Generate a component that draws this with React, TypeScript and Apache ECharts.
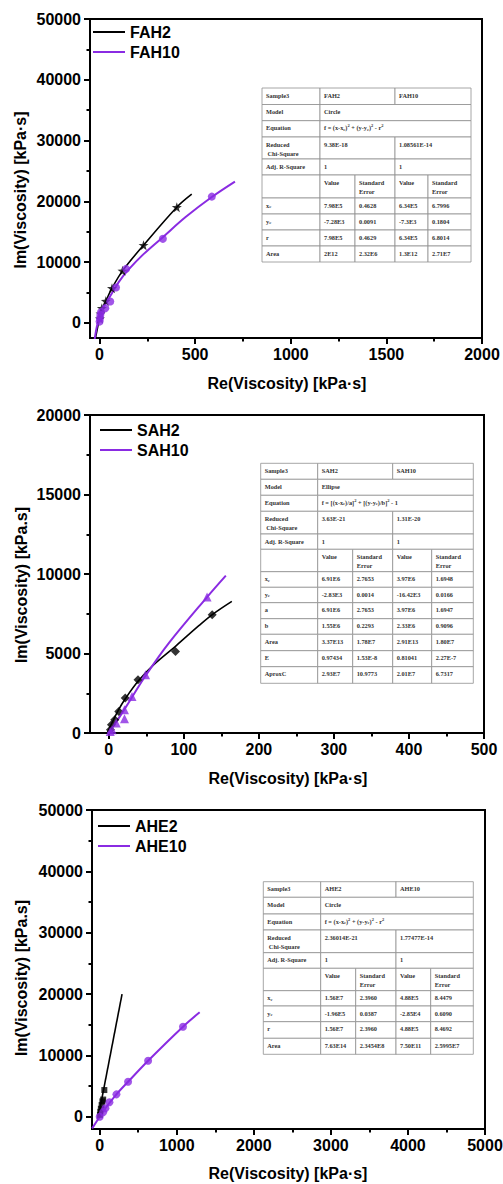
import React, { useEffect, useRef } from "react";
import * as echarts from "echarts";

// ---------------- DATA ----------------
// Panel 1 : FAH (circle fit)
const fah2Points = [[2, 700], [5, 1500], [12, 2400], [33, 3570], [65, 5700], [120, 8550], [230, 12780], [404, 19030]];
const fah2Fit = [[-22, -2600], [-8, -400], [5, 1500], [33, 3570], [65, 5700], [120, 8550], [230, 12780], [404, 19030], [482, 21170]];
const fah10Points = [[0, 200], [2, 700], [4, 1300], [8, 1800], [30, 2400], [56, 3500], [86, 5800], [139, 8880], [331, 13820], [587, 20770]];
const fah10Fit = [[-26, -2800], [-14, -600], [0, 900], [21, 2600], [56, 4400], [100, 6700], [150, 8700], [230, 11300], [331, 14100], [450, 17400], [587, 20700], [708, 23240]];

// Panel 2 : SAH (ellipse fit)
const sah2Points = [[2.2, 210], [3.6, 520], [8, 840], [13.3, 1360], [22, 2200], [39, 3350], [88.9, 5130], [137.8, 7440]];
const sah2Fit = [[-2, 0], [4, 600], [13, 1450], [22, 2150], [39, 3250], [60, 4300], [90, 5500], [120, 6750], [138, 7450], [164, 8280]];
const sah10Points = [[2, 100], [4.4, 210], [10, 630], [21, 900], [21, 1470], [31, 2300], [49, 3670], [131, 8550]];
const sah10Fit = [[-1, 0], [10, 700], [21, 1500], [31, 2250], [49, 3600], [80, 5650], [131, 8550], [156, 9900]];

// Panel 3 : AHE (circle fit)
const ahe2Points = [[3, 300], [8, 800], [15, 1300], [25, 1900], [35, 2500], [45, 2800], [60, 4350]];
const ahe2Fit = [[-25, -500], [290, 20000]];
const ahe10Points = [[0, 0], [44, 720], [74, 1370], [126, 2350], [217, 3650], [368, 5710], [628, 9130], [1081, 14680]];
const ahe10Fit = [[-98, -1900], [0, 0], [74, 1400], [217, 3650], [368, 5700], [628, 9130], [1081, 14680], [1297, 17020]];

// Axis domains and tick labels
const xRange1 = [-50, 2000];
const yRange1 = [-2500, 50000];
const xTicks1 = [0, 500, 1000, 1500, 2000];
const xMinor1 = [250, 750, 1250, 1750];
const yTicks1 = [0, 10000, 20000, 30000, 40000, 50000];
const yMinor1 = [5000, 15000, 25000, 35000, 45000];

const xRange2 = [-25, 500];
const yRange2 = [0, 20000];
const xTicks2 = [0, 100, 200, 300, 400, 500];
const xMinor2 = [50, 150, 250, 350, 450];
const yTicks2 = [0, 5000, 10000, 15000, 20000];
const yMinor2 = [2500, 7500, 12500, 17500];

const xRange3 = [-100, 5000];
const yRange3 = [-2000, 50000];
const xTicks3 = [0, 1000, 2000, 3000, 4000, 5000];
const xMinor3 = [500, 1500, 2500, 3500, 4500];
const yTicks3 = [0, 10000, 20000, 30000, 40000, 50000];
const yMinor3 = [5000, 15000, 25000, 35000, 45000];

// Texts
const xTitle1 = "Re(Viscosity) [kPa·s]";
const yTitle1 = "Im(Viscosity) [kPa·s]";
const xTitle2 = "Re(Viscosity) [kPa·s]";
const yTitle2 = "Im(Viscosity) [kPa.s]";
const xTitle3 = "Re(Viscosity) [kPa·s]";
const yTitle3 = "Im(Viscosity) [kPa.s]";

const eqCircle = "f = (x-x{sub|c}){sup|2} + (y-y{sub|c}){sup|2} - r{sup|2}";
const eqEllipse = "f = [(x-x{sub|c})/a]{sup|2} + [(y-y{sub|c})/b]{sup|2} - 1";

// Table contents: [text, colSpan]
const tableFAH: [string, number][][] = [
  [["Sample3", 1], ["FAH2", 2], ["FAH10", 2]],
  [["Model", 1], ["Circle", 4]],
  [["Equation", 1], [eqCircle, 4]],
  [["Reduced\n Chi-Square", 1], ["9.38E-18", 2], ["1.08561E-14", 2]],
  [["Adj. R-Square", 1], ["1", 2], ["1", 2]],
  [["", 1], ["Value", 1], ["Standard\nError", 1], ["Value", 1], ["Standard\nError", 1]],
  [["x{sub|c}", 1], ["7.98E5", 1], ["0.4628", 1], ["6.34E5", 1], ["6.7996", 1]],
  [["y{sub|c}", 1], ["-7.28E3", 1], ["0.0091", 1], ["-7.3E3", 1], ["0.1804", 1]],
  [["r", 1], ["7.98E5", 1], ["0.4629", 1], ["6.34E5", 1], ["6.8014", 1]],
  [["Area", 1], ["2E12", 1], ["2.32E6", 1], ["1.3E12", 1], ["2.71E7", 1]],
];

const tableSAH: [string, number][][] = [
  [["Sample3", 1], ["SAH2", 2], ["SAH10", 2]],
  [["Model", 1], ["Ellipse", 4]],
  [["Equation", 1], [eqEllipse, 4]],
  [["Reduced\n Chi-Square", 1], ["3.63E-21", 2], ["1.31E-20", 2]],
  [["Adj. R-Square", 1], ["1", 2], ["1", 2]],
  [["", 1], ["Value", 1], ["Standard\nError", 1], ["Value", 1], ["Standard\nError", 1]],
  [["x{sub|c}", 1], ["6.91E6", 1], ["2.7653", 1], ["3.97E6", 1], ["1.6948", 1]],
  [["y{sub|c}", 1], ["-2.83E3", 1], ["0.0014", 1], ["-16.42E3", 1], ["0.0166", 1]],
  [["a", 1], ["6.91E6", 1], ["2.7653", 1], ["3.97E6", 1], ["1.6947", 1]],
  [["b", 1], ["1.55E6", 1], ["0.2293", 1], ["2.33E6", 1], ["0.9096", 1]],
  [["Area", 1], ["3.37E13", 1], ["1.78E7", 1], ["2.91E13", 1], ["1.80E7", 1]],
  [["E", 1], ["0.97434", 1], ["1.53E-8", 1], ["0.81041", 1], ["2.27E-7", 1]],
  [["AproxC", 1], ["2.93E7", 1], ["10.9773", 1], ["2.01E7", 1], ["6.7317", 1]],
];

const tableAHE: [string, number][][] = [
  [["Sample3", 1], ["AHE2", 2], ["AHE10", 2]],
  [["Model", 1], ["Circle", 4]],
  [["Equation", 1], [eqCircle, 4]],
  [["Reduced\n Chi-Square", 1], ["2.36014E-21", 2], ["1.77477E-14", 2]],
  [["Adj. R-Square", 1], ["1", 2], ["1", 2]],
  [["", 1], ["Value", 1], ["Standard\nError", 1], ["Value", 1], ["Standard\nError", 1]],
  [["x{sub|c}", 1], ["1.56E7", 1], ["2.3960", 1], ["4.88E5", 1], ["8.4479", 1]],
  [["y{sub|c}", 1], ["-1.96E5", 1], ["0.0387", 1], ["-2.85E4", 1], ["0.6090", 1]],
  [["r", 1], ["1.56E7", 1], ["2.3960", 1], ["4.88E5", 1], ["8.4692", 1]],
  [["Area", 1], ["7.63E14", 1], ["2.3454E8", 1], ["7.50E11", 1], ["2.5995E7", 1]],
];

// ---------------- LAYOUT / STYLE ----------------
const W = 503;
const H = 1184;
const SANS = "'Liberation Sans', Arial, sans-serif";
const SERIF = "'Liberation Serif', 'Times New Roman', serif";
const PURPLE = "#8a2be2";
const BLACK = "#000000";
const STAR = "path://M0,-10L2.35,-3.24L9.51,-3.09L3.8,1.24L5.88,8.09L0,4L-5.88,8.09L-3.8,1.24L-9.51,-3.09L-2.35,-3.24Z";

const panels = [
  {
    grid: { left: 90, top: 19, width: 392, height: 319 },
    xRange: xRange1, yRange: yRange1, xTicks: xTicks1, xMinor: xMinor1, yTicks: yTicks1, yMinor: yMinor1,
    xTitle: xTitle1, yTitle: yTitle1, xTitlePos: [287, 383], yTitlePos: [20, 190],
    legend: { left: 93, top: 24 },
    series: [
      { name: "FAH2", fit: fah2Fit, pts: fah2Points, color: BLACK, symbol: STAR, size: 10, width: 1.6 },
      { name: "FAH10", fit: fah10Fit, pts: fah10Points, color: PURPLE, symbol: "circle", size: 8, width: 2 },
    ],
    table: tableFAH,
    cols: [262, 320, 355, 395, 428, 471],
    rows: [88, 104.5, 120.7, 137, 159, 175, 198, 214, 230, 246, 262],
  },
  {
    grid: { left: 90, top: 415, width: 394, height: 318 },
    xRange: xRange2, yRange: yRange2, xTicks: xTicks2, xMinor: xMinor2, yTicks: yTicks2, yMinor: yMinor2,
    xTitle: xTitle2, yTitle: yTitle2, xTitlePos: [288, 778], yTitlePos: [21.5, 585],
    legend: { left: 100, top: 422 },
    series: [
      { name: "SAH2", fit: sah2Fit, pts: sah2Points, color: BLACK, symbol: "diamond", size: 9, width: 1.6 },
      { name: "SAH10", fit: sah10Fit, pts: sah10Points, color: PURPLE, symbol: "triangle", size: 9, width: 2 },
    ],
    table: tableSAH,
    cols: [260.7, 317.7, 352.7, 392.7, 431.7, 473.3],
    rows: [463.3, 479.3, 495.3, 511.3, 534, 549.3, 571.7, 587.3, 602.7, 618.7, 634.3, 650.7, 666.7, 683.3],
  },
  {
    grid: { left: 92, top: 810, width: 393, height: 319 },
    xRange: xRange3, yRange: yRange3, xTicks: xTicks3, xMinor: xMinor3, yTicks: yTicks3, yMinor: yMinor3,
    xTitle: xTitle3, yTitle: yTitle3, xTitlePos: [288, 1173], yTitlePos: [21, 978],
    legend: { left: 98, top: 818 },
    series: [
      { name: "AHE2", fit: ahe2Fit, pts: ahe2Points, color: BLACK, symbol: "rect", size: 6, width: 1.6 },
      { name: "AHE10", fit: ahe10Fit, pts: ahe10Points, color: PURPLE, symbol: "circle", size: 8, width: 2 },
    ],
    table: tableAHE,
    cols: [263.3, 320.7, 355.7, 396, 430.7, 473.3],
    rows: [881.7, 897.3, 914, 930, 952.7, 968.3, 990.7, 1006, 1021.7, 1038.3, 1054.3],
  },
];

const tickLabelStyle = { fontFamily: SANS, fontWeight: "bold" as const, fontSize: 16, color: BLACK };

function axisPair(dim: "x" | "y", gridIndex: number, range: number[], major: number[], minor: number[]) {
  const position = dim === "x" ? "bottom" : "left";
  const base = {
    type: "value",
    gridIndex,
    min: range[0],
    max: range[1],
    position,
    splitLine: { show: false },
    splitArea: { show: false },
  };
  return [
    {
      ...base,
      axisLine: { show: true, onZero: false, lineStyle: { color: BLACK, width: 2 } },
      axisTick: { show: true, inside: false, length: 6, customValues: major, lineStyle: { color: BLACK, width: 2 } },
      axisLabel: {
        show: true,
        customValues: major,
        margin: dim === "x" ? 8 : 9,
        formatter: (v: number) => String(v),
        ...tickLabelStyle,
      },
    },
    {
      ...base,
      axisLine: { show: false, onZero: false },
      axisTick: { show: true, inside: false, length: 3.5, customValues: minor, lineStyle: { color: BLACK, width: 2 } },
      axisLabel: { show: false },
    },
  ];
}

const richSubSup = {
  sub: { fontFamily: SERIF, fontWeight: "bold", fontSize: 4.5, fill: "#333", padding: [3, 0, 0, 0] },
  sup: { fontFamily: SERIF, fontWeight: "bold", fontSize: 4.5, fill: "#333", padding: [0, 0, 4, 0] },
};

function buildTable(table: [string, number][][], cols: number[], rows: number[]) {
  const els: any[] = [];
  const texts: any[] = [];
  table.forEach((row, r) => {
    let c = 0;
    row.forEach(([text, span]) => {
      const x0 = cols[c];
      const x1 = cols[c + span];
      const y0 = rows[r];
      const y1 = rows[r + 1];
      els.push({
        type: "rect",
        shape: { x: x0, y: y0, width: x1 - x0, height: y1 - y0 },
        style: { fill: "#ffffff", stroke: "#8f8f8f", lineWidth: 0.8 },
        z: 10,
      });
      if (text) {
        texts.push({
          type: "text",
          x: x0 + 4,
          y: y0 + 2.6,
          z: 11,
          style: {
            text,
            fontFamily: SERIF,
            fontWeight: "bold",
            fontSize: 6.3,
            lineHeight: 9,
            fill: "#333333",
            align: "left",
            verticalAlign: "top",
            rich: richSubSup,
          },
        });
      }
      c += span;
    });
  });
  return [...els, ...texts];
}

function buildOption() {
  const grid: any[] = [];
  const xAxis: any[] = [];
  const yAxis: any[] = [];
  const series: any[] = [];
  const legend: any[] = [];
  const graphic: any[] = [];

  panels.forEach((p, g) => {
    grid.push({
      ...p.grid,
      show: true,
      borderColor: BLACK,
      borderWidth: 2,
      backgroundColor: "transparent",
      containLabel: false,
      outerBoundsMode: "none",
    });
    xAxis.push(...axisPair("x", g, p.xRange, p.xTicks, p.xMinor));
    yAxis.push(...axisPair("y", g, p.yRange, p.yTicks, p.yMinor));
    p.series.forEach((s) => {
      series.push({
        type: "line",
        name: s.name,
        data: s.fit,
        xAxisIndex: 2 * g,
        yAxisIndex: 2 * g,
        symbol: "none",
        showSymbol: false,
        smooth: 0.35,
        clip: true,
        lineStyle: { color: s.color, width: s.width },
        itemStyle: { color: s.color },
        z: 2,
      });
      series.push({
        type: "scatter",
        name: s.name + " data",
        data: s.pts,
        xAxisIndex: 2 * g,
        yAxisIndex: 2 * g,
        symbol: s.symbol,
        symbolSize: s.size,
        itemStyle: { color: s.color },
        clip: true,
        z: 3,
      });
    });
    legend.push({
      show: true,
      left: p.legend.left,
      top: p.legend.top,
      orient: "vertical",
      padding: 0,
      icon: "rect",
      itemWidth: 32,
      itemHeight: 2,
      itemGap: 4,
      selectedMode: false,
      data: p.series.map((s) => ({ name: s.name, icon: "rect", itemStyle: { color: s.color } })),
      textStyle: { fontFamily: SANS, fontWeight: "bold", fontSize: 16, color: BLACK },
    });
    graphic.push({
      type: "text",
      x: p.xTitlePos[0],
      y: p.xTitlePos[1],
      style: { text: p.xTitle, fontFamily: SANS, fontWeight: "bold", fontSize: 16, fill: BLACK, align: "center", verticalAlign: "middle" },
    });
    graphic.push({
      type: "text",
      x: p.yTitlePos[0],
      y: p.yTitlePos[1],
      rotation: Math.PI / 2,
      style: { text: p.yTitle, fontFamily: SANS, fontWeight: "bold", fontSize: 16, fill: BLACK, align: "center", verticalAlign: "middle" },
    });
    graphic.push(...buildTable(p.table, p.cols, p.rows));
  });

  return {
    animation: false,
    backgroundColor: "#ffffff",
    grid,
    xAxis,
    yAxis,
    series,
    legend,
    graphic,
  };
}

export default function App() {
  const ref = useRef<HTMLDivElement>(null);
  useEffect(() => {
    const chart = echarts.init(ref.current!, null, { renderer: "svg" });
    chart.setOption(buildOption() as any);
    return () => chart.dispose();
  }, []);
  return <div ref={ref} style={{ position: "absolute", left: 0, top: 0, width: W, height: H }} />;
}
